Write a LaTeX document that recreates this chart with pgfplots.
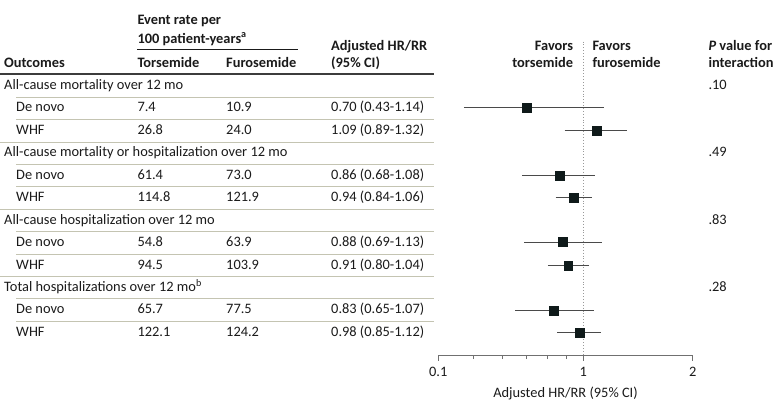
\documentclass[border=0pt]{standalone}
\usepackage{pgfplots}
\pgfplotsset{compat=1.18}
\usepackage{fontspec}
\setmainfont{Carlito}
\definecolor{txt}{HTML}{1A1A1A}
\definecolor{sep}{HTML}{C4C4B2}
\definecolor{mk}{HTML}{0F1A1A}
\definecolor{wh}{HTML}{4A4A4A}
\definecolor{axc}{HTML}{707070}
\definecolor{refc}{HTML}{999999}
\pgfplotstableread{
hr y
0.70 -107.7
1.09 -130.3
0.86 -175.3
0.94 -197.7
0.88 -242
0.91 -265.3
0.83 -310.3
0.98 -332.3
}\hrdata
\newcommand{\fs}{\fontsize{14.4bp}{17bp}\selectfont}
\begin{document}
\begin{tikzpicture}[font=\fs]
\begin{scope}[x=1bp,y=1bp]
\path[use as bounding box] (0,0) rectangle (780,-411);
\tikzset{t/.style={anchor=west, inner sep=0pt, text height=10bp, text depth=3bp, text=txt},
         tr/.style={anchor=east, inner sep=0pt, text height=10bp, text depth=3bp, text=txt}}
% ---- header ----
\node[t] at (137.3,-20.7) {\bfseries Event rate per};
\node[t] at (137.3,-39.5) {\bfseries 100 patient-years\textsuperscript{a}};
\draw[txt, line width=1.1bp] (137,-49.3) -- (297.7,-49.3);
\node[t] at (4,-63.8) {\bfseries Outcomes};
\node[t] at (137.3,-63.8) {\bfseries Torsemide};
\node[t] at (226,-63.8) {\bfseries Furosemide};
\node[t] at (331,-47) {\bfseries Adjusted HR/RR};
\node[t] at (331,-63.8) {\bfseries (95\% CI)};
\node[tr] at (573.3,-47) {\bfseries Favors};
\node[tr] at (573.3,-63.8) {\bfseries torsemide};
\node[t] at (592.3,-47) {\bfseries Favors};
\node[t] at (592.3,-63.8) {\bfseries furosemide};
\node[t] at (708.3,-47) {\bfseries\itshape P\upshape\ value for};
\node[t] at (708.3,-63.8) {\bfseries interaction};
\draw[txt!85!white, line width=1.4bp] (0,-74) -- (434.3,-74);
% ---- separator lines ----
\foreach \s in {86,153.3,220.6} {
  \draw[sep, line width=0.9bp] (16,-\s-11) -- (434.3,-\s-11);
  \draw[sep, line width=0.9bp] (16,-\s-33.6) -- (434.3,-\s-33.6);
  \draw[sep, line width=0.9bp] (0,-\s-56) -- (434.3,-\s-56);
}
\draw[sep, line width=0.9bp] (16,-298.9) -- (434.3,-298.9);
\draw[sep, line width=0.9bp] (16,-321.5) -- (434.3,-321.5);
% ---- rows ----
\node[t] at (4,-86) {All-cause mortality over 12 mo};
\node[t] at (16,-108.4) {De novo}; \node[t] at (137.3,-108.4) {7.4};   \node[t] at (226,-108.4) {10.9};  \node[t] at (331,-108.4) {0.70 (0.43-1.14)};
\node[t] at (16,-130.9) {WHF};     \node[t] at (137.3,-130.9) {26.8};  \node[t] at (226,-130.9) {24.0};  \node[t] at (331,-130.9) {1.09 (0.89-1.32)};
\node[t] at (4,-153.3) {All-cause mortality or hospitalization over 12 mo};
\node[t] at (16,-175.7) {De novo}; \node[t] at (137.3,-175.7) {61.4};  \node[t] at (226,-175.7) {73.0};  \node[t] at (331,-175.7) {0.86 (0.68-1.08)};
\node[t] at (16,-198.2) {WHF};     \node[t] at (137.3,-198.2) {114.8}; \node[t] at (226,-198.2) {121.9}; \node[t] at (331,-198.2) {0.94 (0.84-1.06)};
\node[t] at (4,-220.6) {All-cause hospitalization over 12 mo};
\node[t] at (16,-243) {De novo};   \node[t] at (137.3,-243) {54.8};    \node[t] at (226,-243) {63.9};    \node[t] at (331,-243) {0.88 (0.69-1.13)};
\node[t] at (16,-265.5) {WHF};     \node[t] at (137.3,-265.5) {94.5};  \node[t] at (226,-265.5) {103.9}; \node[t] at (331,-265.5) {0.91 (0.80-1.04)};
\node[t] at (4,-287.9) {Total hospitalizations over 12 mo\textsuperscript{b}};
\node[t] at (16,-310.3) {De novo}; \node[t] at (137.3,-310.3) {65.7};  \node[t] at (226,-310.3) {77.5};  \node[t] at (331,-310.3) {0.83 (0.65-1.07)};
\node[t] at (16,-332.8) {WHF};     \node[t] at (137.3,-332.8) {122.1}; \node[t] at (226,-332.8) {124.2}; \node[t] at (331,-332.8) {0.98 (0.85-1.12)};
% P values
\node[t] at (708.3,-86) {.10};
\node[t] at (708.3,-153.3) {.49};
\node[t] at (708.3,-220.6) {.83};
\node[t] at (708.3,-287.9) {.28};
\end{scope}
% ---- forest plot ----
\begin{axis}[
  at={(438.3bp,-355.7bp)}, anchor=south west,
  scale only axis, width=254.4bp, height=314.2bp,
  xmode=log, xmin=0.4, xmax=2, ymin=-355.7, ymax=-41.5,
  axis x line*=bottom, axis y line=none,
  x axis line style={-, draw=axc, line width=0.9bp},
  xtick={0.4,1,2}, xticklabels={0.1,1,2},
  minor xtick={0.5,0.6,0.7,0.8,0.9},
  ytick=\empty,
  tick align=outside, major tick length=5bp, minor tick length=3.5bp,
  tick style={draw=axc, line width=0.9bp},
  xticklabel style={text=txt, font=\fs, yshift=-2.5bp},
  xlabel={Adjusted HR/RR (95\% CI)},
  xlabel style={text=txt, font=\fs, yshift=-4bp},
  clip=false,
]
\addplot[draw=refc, dotted, line width=0.9bp] coordinates {(1,-41.5) (1,-355.7)};
\addplot[wh, line width=0.9bp] coordinates {(0.47,-107.7) (1.14,-107.7)};
\addplot[wh, line width=0.9bp] coordinates {(0.89,-130.3) (1.32,-130.3)};
\addplot[wh, line width=0.9bp] coordinates {(0.68,-175.3) (1.08,-175.3)};
\addplot[wh, line width=0.9bp] coordinates {(0.84,-197.7) (1.06,-197.7)};
\addplot[wh, line width=0.9bp] coordinates {(0.69,-242) (1.13,-242)};
\addplot[wh, line width=0.9bp] coordinates {(0.80,-265.3) (1.04,-265.3)};
\addplot[wh, line width=0.9bp] coordinates {(0.65,-310.3) (1.07,-310.3)};
\addplot[wh, line width=0.9bp] coordinates {(0.85,-332.3) (1.12,-332.3)};
\addplot[only marks, mark=square*, mark size=4.4bp, mark options={draw=mk, fill=mk}] table[x=hr, y=y] {\hrdata};
\end{axis}
\end{tikzpicture}
\end{document}
